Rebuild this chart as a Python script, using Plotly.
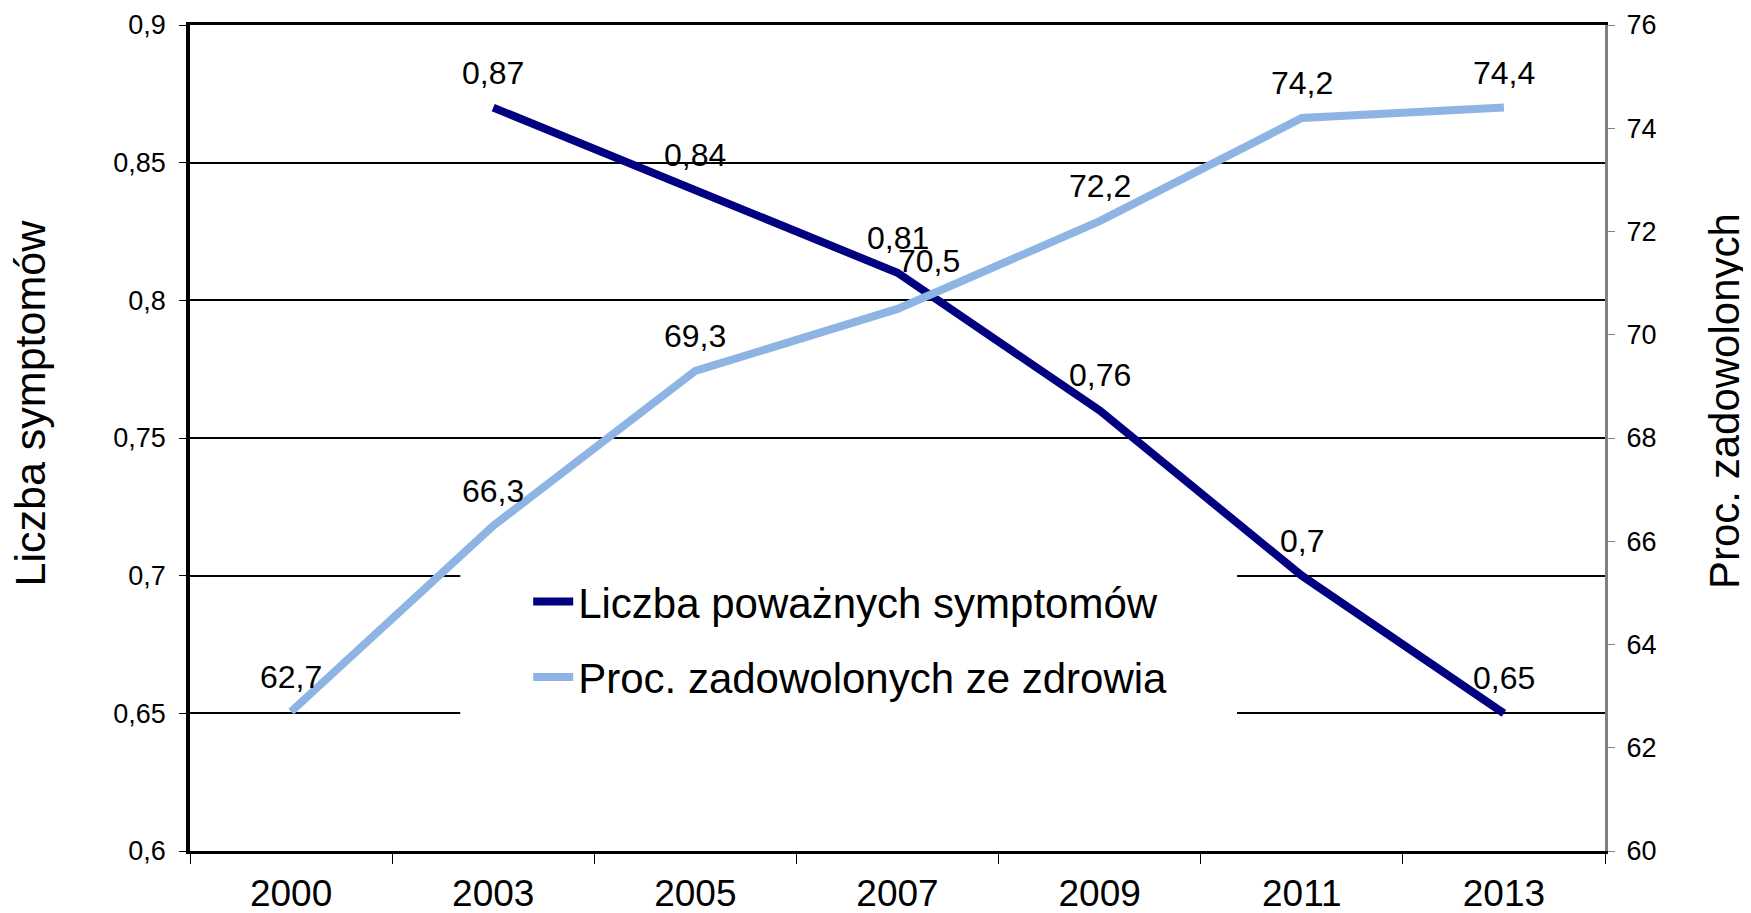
import plotly.graph_objects as go

years = ["2000", "2003", "2005", "2007", "2009", "2011", "2013"]
symptoms = [None, 0.87, 0.84, 0.81, 0.76, 0.70, 0.65]
satisfied = [62.7, 66.3, 69.3, 70.5, 72.2, 74.2, 74.4]

left_ticks = [0.6, 0.65, 0.7, 0.75, 0.8, 0.85, 0.9]
right_ticks = [60, 62, 64, 66, 68, 70, 72, 74, 76]

name_sym = "Liczba poważnych symptomów"
name_sat = "Proc. zadowolonych ze zdrowia"
title_left = "Liczba symptomów"
title_right = "Proc. zadowolonych"

DARK = "#000080"
LIGHT = "#8DB4E2"
FONT = "Liberation Sans, Arial, sans-serif"

fig = go.Figure()
fig.add_trace(go.Scatter(x=years, y=symptoms, mode="lines", name=name_sym,
                         line=dict(color=DARK, width=8), yaxis="y",
                         legendgroup="a"))
fig.add_trace(go.Scatter(x=years, y=satisfied, mode="lines", name=name_sat,
                         line=dict(color=LIGHT, width=8), yaxis="y2",
                         legendgroup="b"))

def fmt(v):
    return ("%g" % v).replace(".", ",")

# data labels (x given as category index)
for i, v in enumerate(symptoms):
    if v is None:
        continue
    fig.add_annotation(x=i, y=v, xref="x", yref="y", text=fmt(v), showarrow=False,
                       yshift=35, font=dict(family=FONT, size=32, color="black"))
for i, v in enumerate(satisfied):
    xs, ys = 0, 35
    if years[i] == "2007":
        xs, ys = 31, 48
    fig.add_annotation(x=i, y=v, xref="x", yref="y2", text=fmt(v), showarrow=False,
                       xshift=xs, yshift=ys, font=dict(family=FONT, size=32, color="black"))

# axis titles
fig.add_annotation(x=-0.1124, y=0.543, xref="paper", yref="paper", text=title_left,
                   textangle=-90, showarrow=False, xanchor="center", yanchor="middle",
                   font=dict(family=FONT, size=43, color="black"))
fig.add_annotation(x=1.0848, y=0.5448, xref="paper", yref="paper", text=title_right,
                   textangle=-90, showarrow=False, xanchor="center", yanchor="middle",
                   font=dict(family=FONT, size=42, color="black"))

# white box behind legend
fig.add_shape(type="rect", xref="paper", yref="paper",
              x0=0.191, x1=0.740, y0=0.151, y1=0.334,
              fillcolor="white", line=dict(width=0), layer="above")

fig.update_layout(
    width=1743, height=905,
    margin=dict(l=182, r=146, t=17, b=62, autoexpand=False),
    paper_bgcolor="white", plot_bgcolor="white",
    separators=", ",
    font=dict(family=FONT, color="black"),
    showlegend=True,
    legend=dict(x=0.239, y=0.343, xanchor="left", yanchor="top",
                bgcolor="rgba(0,0,0,0)", font=dict(family=FONT, size=42, color="black"),
                tracegroupgap=18, itemwidth=40),
    xaxis=dict(type="category", categoryorder="array", categoryarray=years,
               range=[-0.5, len(years) - 0.5], autorange=False, automargin=False,
               showline=True, linecolor="black", linewidth=3,
               mirror=True, ticks="outside", ticklen=10, tickcolor="black",
               tickson="boundaries", showgrid=False, tickangle=0,
               ticklabelstandoff=8,
               tickfont=dict(family=FONT, size=37, color="black")),
    yaxis=dict(range=[0.6, 0.9], tickvals=left_ticks, automargin=False,
               ticktext=[fmt(v) for v in left_ticks],
               showline=True, linecolor="black", linewidth=3.5,
               ticks="outside", ticklen=7, tickcolor="black",
               ticklabelstandoff=8,
               showgrid=True, gridcolor="black", gridwidth=1.5, zeroline=False,
               tickfont=dict(family=FONT, size=27, color="black")),
    yaxis2=dict(range=[60, 76], tickvals=right_ticks, overlaying="y", side="right",
                automargin=False,
                showline=True, linecolor="#808080", linewidth=3,
                ticks="outside", ticklen=7, tickcolor="#808080",
                ticklabelstandoff=6,
                showgrid=False, zeroline=False,
                tickfont=dict(family=FONT, size=27, color="black")),
)

fig.write_html("out.html")
